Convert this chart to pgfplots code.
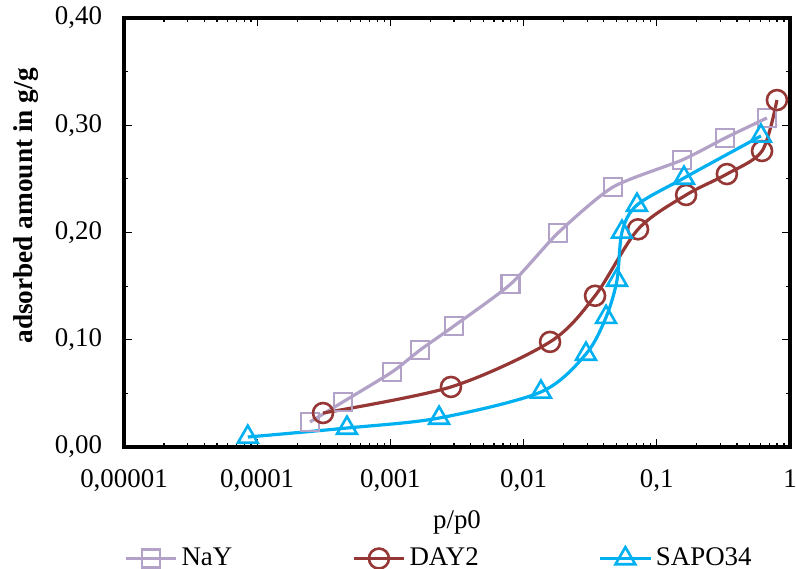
\documentclass[border=0pt]{standalone}
\usepackage{pgfplots}
\pgfplotsset{compat=1.18}
\usepackage{fontspec}
\setmainfont{Liberation Serif}
\usetikzlibrary{calc}
\definecolor{cNaY}{HTML}{B3A2C7}
\definecolor{cDAY}{HTML}{953735}
\definecolor{cSAPO}{HTML}{00B0F0}
\begin{document}
\begin{tikzpicture}
\begin{axis}[
  scale only axis,
  width=333bp, height=214.5bp,
  xmode=log,
  xmin=1e-5, xmax=1,
  ymin=0, ymax=0.4,
  xtick={1e-5,1e-4,1e-3,1e-2,1e-1,1},
  xticklabels={{0,00001},{0,0001},{0,001},{0,01},{0,1},{1}},
  ytick={0,0.1,0.2,0.3,0.4},
  yticklabels={{0,00},{0,10},{0,20},{0,30},{0,40}},
  minor ytick={0.05,0.15,0.25,0.35},
  tick align=inside,
  major tick length=4bp, minor tick length=2.2bp,
  every tick/.style={black, line width=0.6bp},
  axis line style={line width=2bp},
  ticklabel style={font=\fontsize{13.5}{16}\selectfont},
  xticklabel style={yshift=-8bp},
  yticklabel style={xshift=-7.5bp},
  xlabel={p/p0},
  xlabel style={font=\fontsize{13.5}{16}\selectfont, yshift=-2.5bp},
  ylabel={\textbf{adsorbed amount in g/g}},
  ylabel style={font=\fontsize{13.7}{16}\selectfont, at={(rel axis cs:-0.1471,0.562)}, anchor=center},
  legend columns=3,
  legend style={draw=none, fill=none, inner sep=0pt, at={(0,-0.26)}, anchor=west,
    font=\fontsize{13.5}{16}\selectfont,
    /tikz/every even column/.append style={column sep=58bp}},
  legend image code/.code={\draw[mark repeat=2,mark phase=2] plot coordinates {(0bp,0bp) (12.5bp,0bp) (25bp,0bp)};},
  every axis plot/.append style={line width=1.6bp, mark options={solid, line width=1.3bp, fill=white}},
]
\addplot[color=cNaY, mark=square, mark size=4.5bp, smooth, tension=0.4] coordinates {
(2.49e-4,0.0233) (4.4e-4,0.042) (1.03e-3,0.070) (1.67e-3,0.0904) (3.0e-3,0.1128)
(8.0e-3,0.152) (0.0181,0.1995) (0.0469,0.2424) (0.155,0.2676) (0.325,0.288) (0.671,0.3068)};
\addlegendentry{NaY}
\addplot[color=cDAY, mark=o, mark size=5bp, smooth, tension=0.5] coordinates {
(3.12e-4,0.0317) (2.85e-3,0.056) (0.0158,0.098) (0.0344,0.141) (0.0723,0.203)
(0.166,0.235) (0.336,0.2545) (0.617,0.276) (0.798,0.3235)};
\addlegendentry{DAY2}
\addplot[color=cSAPO, mark=triangle, mark size=5.7bp, smooth, tension=0.5] coordinates {
(8.5e-5,0.0093) (4.72e-4,0.0177) (2.32e-3,0.027) (0.0135,0.0513) (0.0294,0.0867)
(0.0416,0.121) (0.0503,0.1557) (0.0548,0.2005) (0.071,0.2256) (0.16,0.2508) (0.605,0.29)};
\addlegendentry{SAPO34}
\end{axis}
\pgfresetboundingbox
\path[use as bounding box] ($(current axis.south west)+(-62bp,-61bp)$) rectangle ($(current axis.north east)+(3bp,9bp)$);
\end{tikzpicture}
\end{document}
